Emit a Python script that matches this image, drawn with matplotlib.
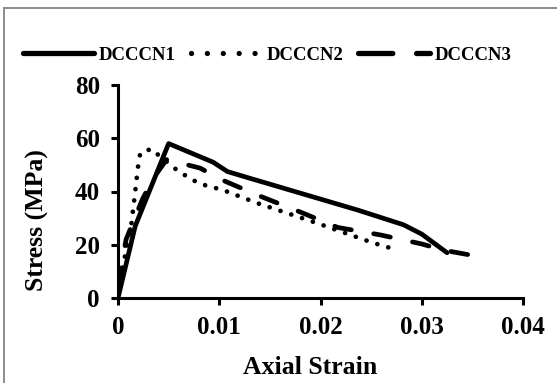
import matplotlib
matplotlib.use("Agg")
import matplotlib.pyplot as plt
from matplotlib.lines import Line2D
from matplotlib.patches import Rectangle

# Data
strain1 = [0, 0.0017, 0.0050, 0.0094, 0.0108, 0.0130, 0.0237, 0.0282, 0.0300, 0.0325]
stress1 = [0, 27, 58, 51, 47.5, 45, 33, 27.5, 24, 17]

strain2 = [0, 0.0007, 0.0013, 0.0017, 0.0020, 0.0022, 0.0033, 0.0042, 0.0060, 0.0080, 0.0104, 0.0137, 0.0196, 0.0252, 0.0276]
stress2 = [3, 16, 27, 40, 50, 54.5, 56, 53, 47.5, 43, 40.5, 35.7, 28.2, 20.7, 18]

strain3 = [0, 0.0008, 0.0024, 0.0035, 0.0048, 0.0081, 0.0103, 0.0140, 0.0180, 0.0217, 0.0259, 0.0300, 0.0321, 0.0350]
stress3 = [5, 22, 37, 45, 52, 48.8, 44.3, 38.3, 32.3, 26.5, 23.7, 20.3, 18, 16]

series_names = ["DCCCN1", "DCCCN2", "DCCCN3"]
xticks = [0, 0.01, 0.02, 0.03, 0.04]
xticklabels = ["0", "0.01", "0.02", "0.03", "0.04"]
yticks = [0, 20, 40, 60, 80]

plt.rcParams['font.family'] = ['Liberation Serif', 'DejaVu Serif']
plt.rcParams['font.weight'] = 'bold'

fig = plt.figure(figsize=(5.57, 3.83), dpi=100)
ax = fig.add_axes([118/557, 1 - 298/383, 405/557, 213/383])

lw = 3.4
ax.plot(strain1, stress1, color='black', lw=lw, solid_capstyle='round', solid_joinstyle='round')
ax.plot(strain2, stress2, color='black', lw=lw, linestyle=(0, (0.01, 2.4)), dash_capstyle='round')
ax.plot(strain3, stress3, color='black', lw=lw, linestyle=(0, (3.6, 4.8)), dash_capstyle='round')

ax.set_xlim(0, 0.04)
ax.set_ylim(0, 80)
ax.set_xticks(xticks)
ax.set_xticklabels(xticklabels)
ax.set_yticks(yticks)
for s in ['top', 'right']:
    ax.spines[s].set_visible(False)
for s in ['left', 'bottom']:
    ax.spines[s].set_linewidth(2.2)
ax.tick_params(axis='both', direction='out', length=5, width=2.2, labelsize=18, pad=8)
for lab in ax.get_xticklabels() + ax.get_yticklabels():
    lab.set_fontweight('bold')

ax.set_xlabel("Axial Strain", fontsize=18.5, fontweight='bold', va='center')
ax.xaxis.set_label_coords(0.474, -0.325)
ax.set_ylabel("Stress (MPa)", fontsize=18.5, fontweight='bold', va='center')
ax.yaxis.set_label_coords(-0.2, 0.368)

handles = [
    Line2D([], [], color='black', lw=3.8, solid_capstyle='round'),
    Line2D([], [], color='black', lw=3.8, linestyle=(0, (0.01, 3.0)), dash_capstyle='round'),
    Line2D([], [], color='black', lw=3.8, linestyle=(0, (6.5, 4.5)), dash_capstyle='round'),
]
leg = fig.legend(handles, series_names, loc='center', bbox_to_anchor=(267/557, 1 - 55/383),
                 ncol=3, frameon=False, handlelength=3.8, handletextpad=0.25,
                 columnspacing=0.8, prop={'family': 'Liberation Serif', 'weight': 'bold', 'size': 13.5})

fig.patches.append(Rectangle((4/557, -0.2), 1.2, 1.2 - 8/383, transform=fig.transFigure,
                             fill=False, edgecolor='#8c8c8c', lw=1.4))

fig.savefig("out.png", dpi=100)
